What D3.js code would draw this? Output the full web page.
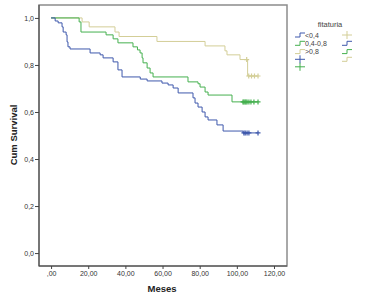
<!DOCTYPE html>
<html>
<head>
<meta charset="utf-8">
<script src="https://cdn.jsdelivr.net/npm/d3@7"></script>
<style>
    body { margin: 0; background: #fff; }
    text { font-family: "Liberation Sans", Arial, sans-serif; fill: #222; }
</style>
</head>
<body>
<div id="km-plot"></div>
<script>
// Kaplan-Meier curves, one group per fitaturia level
const groupNames = ["<0,4", "0,4-0,8", ">0,8"];
const groupColors = ["#3e58ac", "#45b04f", "#d3ce97"];

// <0,4
const lowTimes = [2.2, 3.8, 5.9, 6.5, 8.1, 8.6, 9.1, 10.2, 21, 26.4, 28, 33.4, 36, 38.2, 48, 51.7,
    59.7, 63, 65.7, 68.4, 76.4, 77.5, 79.1, 81.3, 82.9, 84.5, 89.3, 92.6, 103.3];
const lowSurv = [0.987, 0.979, 0.962, 0.94, 0.928, 0.898, 0.877, 0.868, 0.851, 0.843, 0.83, 0.813,
    0.779, 0.749, 0.74, 0.732, 0.723, 0.715, 0.702, 0.681, 0.66, 0.638, 0.621, 0.6, 0.579, 0.566,
    0.545, 0.519, 0.511];
const lowCensored = [103.8, 104.5, 105.5, 106.5, 111.4];

// 0,4-0,8
const midTimes = [15.1, 16.1, 29.6, 33.4, 36, 44.1, 46.5, 47.9, 49, 49.5, 51.7, 53.3, 54.9, 73.7,
    79.1, 80.2, 82.9, 84.5, 97.4];
const midSurv = [0.983, 0.94, 0.928, 0.911, 0.894, 0.877, 0.864, 0.851, 0.83, 0.809, 0.787, 0.766,
    0.749, 0.728, 0.72, 0.706, 0.685, 0.672, 0.643];
const midCensored = [103.3, 103.8, 104.4, 104.9, 105.5, 106.5, 107.6, 109.2, 111.4];

// >0,8
const highTimes = [16.7, 20.5, 34.4, 36.6, 57, 82.9, 93.6, 94.7, 101.7, 105.8];
const highSurv = [0.983, 0.962, 0.94, 0.921, 0.9, 0.881, 0.86, 0.843, 0.823, 0.753];
const highCensored = [105.3, 106.4, 107.9, 109.5, 111.4];

const xTicks = [0, 20, 40, 60, 80, 100, 120];
const yTicks = [0, 0.2, 0.4, 0.6, 0.8, 1.0];

const width = 379, height = 304;
const plot = { left: 39, right: 287, top: 5, bottom: 266 };

const svg = d3.select("#km-plot")
    .append("svg")
    .attr("width", width)
    .attr("height", height);

const xScale = d3.scaleLinear().domain([-6.5, 127]).range([plot.left, plot.right]);
const yScale = d3.scaleLinear().domain([-0.055, 1.055]).range([plot.bottom, plot.top]);

const comma = d3.format(".2f");
const fmtX = d => { const s = comma(d).replace(".", ","); return d === 0 ? ",00" : s; };
const fmtY = d => d3.format(".1f")(d).replace(".", ",");

// plot frame
svg.append("rect")
    .attr("x", plot.left).attr("y", plot.top)
    .attr("width", plot.right - plot.left).attr("height", plot.bottom - plot.top)
    .attr("fill", "none").attr("stroke", "#8c8c8c").attr("stroke-width", 1.5);

// axes
const xAxis = d3.axisBottom(xScale).tickValues(xTicks).tickFormat(fmtX).tickSize(3).tickSizeOuter(0);
const yAxis = d3.axisLeft(yScale).tickValues(yTicks).tickFormat(fmtY).tickSize(4).tickSizeOuter(0);

const gx = svg.append("g").attr("transform", `translate(0, ${plot.bottom})`).call(xAxis);
const gy = svg.append("g").attr("transform", `translate(${plot.left}, 0)`).call(yAxis);

gx.select(".domain").attr("d", `M${plot.left},0H${plot.right}`);
gy.select(".domain").attr("d", `M0,${plot.top}V${plot.bottom}`);
[gx, gy].forEach(g => {
    g.selectAll("path, line").attr("stroke", "#444");
    g.selectAll("text").style("font-size", "7px").style("fill", "#333")
        .style("font-family", '"Liberation Sans", Arial, sans-serif');
});
gx.selectAll("text").attr("dy", "0.71em").attr("y", 5);
gy.selectAll("text").attr("x", -5);

// axis titles
svg.append("text")
    .attr("x", 162).attr("y", 292)
    .attr("text-anchor", "middle")
    .style("font-size", "9.5px").style("font-weight", "bold")
    .text("Meses");

svg.append("text")
    .attr("transform", "translate(17, 135) rotate(-90)")
    .attr("text-anchor", "middle")
    .style("font-size", "9.5px").style("font-weight", "bold")
    .text("Cum Survival");

// build step data for each group
function stepPoints(times, surv, censored) {
    const end = d3.max(censored.concat(times));
    const pts = [{ t: 0, s: 1 }];
    times.forEach((t, i) => pts.push({ t: t, s: surv[i] }));
    pts.push({ t: end, s: pts[pts.length - 1].s });
    return pts;
}

function survivalAt(times, surv, t) {
    let s = 1;
    times.forEach((tt, i) => { if (tt <= t) s = surv[i]; });
    return s;
}

const groups = [
    { times: lowTimes, surv: lowSurv, censored: lowCensored },
    { times: midTimes, surv: midSurv, censored: midCensored },
    { times: highTimes, surv: highSurv, censored: highCensored }
];

const line = d3.line()
    .x(d => xScale(d.t))
    .y(d => yScale(d.s))
    .curve(d3.curveStepAfter);

// draw last group first so blue sits on top
groups.slice().reverse().forEach((g, ri) => {
    const gi = groups.length - 1 - ri;
    const color = groupColors[gi];
    svg.append("path")
        .datum(stepPoints(g.times, g.surv, g.censored))
        .attr("d", line)
        .attr("fill", "none")
        .attr("stroke", color)
        .attr("stroke-width", 1);

    svg.selectAll(null)
        .data(g.censored)
        .enter()
        .append("path")
        .attr("d", d => {
            const cx = xScale(d), cy = yScale(survivalAt(g.times, g.surv, d));
            return `M${cx - 2.5},${cy}H${cx + 2.5}M${cx},${cy - 2.5}V${cy + 2.5}`;
        })
        .attr("stroke", color)
        .attr("stroke-width", 1.2)
        .attr("fill", "none");
});

// legend
const legend = svg.append("g");
legend.append("text")
    .attr("x", 330).attr("y", 27)
    .attr("text-anchor", "middle")
    .style("font-size", "7.5px")
    .style("fill", "#444")
    .text("fitaturia");

function stepIcon(x, y, color) {
    legend.append("path")
        .attr("d", `M${x},${y + 2}H${x + 5}V${y - 2}H${x + 10}`)
        .attr("fill", "none").attr("stroke", color).attr("stroke-width", 1);
}
function plusIcon(x, y, color) {
    legend.append("path")
        .attr("d", `M${x},${y}H${x + 10}M${x + 5},${y - 4}V${y + 4}`)
        .attr("fill", "none").attr("stroke", color).attr("stroke-width", 1);
}

const rowY = [35, 43.3, 51.6, 59.3, 66.8];
groupNames.forEach((name, i) => {
    stepIcon(295, rowY[i], groupColors[i]);
    legend.append("text")
        .attr("x", 305).attr("y", rowY[i] + 2.5)
        .style("font-size", "7px")
        .style("fill", "#444")
        .text(name);
});
plusIcon(295, rowY[3], groupColors[0]);
plusIcon(295, rowY[4], groupColors[1]);
plusIcon(342, rowY[0], groupColors[2]);
stepIcon(342, rowY[1], groupColors[0]);
stepIcon(342, rowY[2], groupColors[1]);
stepIcon(342, rowY[3], groupColors[2]);
</script>
</body>
</html>
